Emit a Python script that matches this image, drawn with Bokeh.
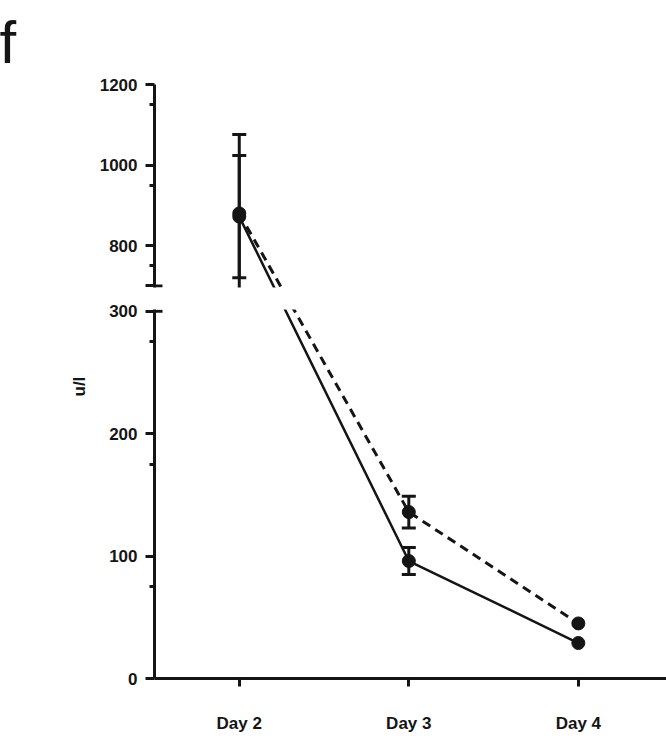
import math
from bokeh.plotting import figure
from bokeh.models import Range1d, FixedTicker, Title
from bokeh.layouts import column
from bokeh.embed import file_html
from bokeh.resources import INLINE

# ---------------- data ----------------
days = ["Day 2", "Day 3", "Day 4"]
x_pos = [1, 2, 3]
solid_mean = [872, 96, 29]
solid_err = [152, 11, 0]
dashed_mean = [880, 136, 45]
dashed_err = [196, 13, 0]

top_ticks = [700, 800, 1000, 1200]
top_minor = [750, 950, 1150]
bottom_ticks = [0, 100, 200, 300]
bottom_minor = [75, 175, 275]
break_low = 300
break_high = 700

# ---------------- layout ----------------
BLACK = "#151515"
FONT = "Liberation Sans"
LEFT = 154
FRAME_W = 512
X_RANGE = (0.5, 3.52)
TOP_RANGE = (696, 1200)
BOT_RANGE = (0, 301.5)
TOP_H = 203
BOT_H = 369
TOP_BB = 8
BOT_BT = 14
GAP = TOP_BB + BOT_BT
kt = TOP_H / (TOP_RANGE[1] - TOP_RANGE[0])
kb = BOT_H / (BOT_RANGE[1] - BOT_RANGE[0])
kx = FRAME_W / (X_RANGE[1] - X_RANGE[0])


def to_px(v):
    """continuous pixel height above the bottom frame's bottom edge"""
    if v >= (break_low + break_high) / 2:
        return BOT_H + GAP + (v - TOP_RANGE[0]) * kt
    return (v - BOT_RANGE[0]) * kb


def to_top(v):
    return TOP_RANGE[0] + (to_px(v) - BOT_H - GAP) / kt


def to_bot(v):
    return BOT_RANGE[0] + to_px(v) / kb


def make_fig(yr, fh, btop, bbot):
    p = figure(frame_width=FRAME_W, frame_height=fh,
               x_range=Range1d(*X_RANGE), y_range=Range1d(*yr),
               output_backend="svg", toolbar_location=None,
               min_border_left=LEFT, min_border_right=0,
               min_border_top=btop, min_border_bottom=bbot)
    p.outline_line_color = None
    p.grid.visible = False
    p.background_fill_color = "white"
    p.border_fill_color = "white"
    return p


def style_yaxis(ax, ticks, minor, hide):
    ax.ticker = FixedTicker(ticks=ticks, minor_ticks=minor)
    ax.axis_line_width = 3
    ax.axis_line_color = BLACK
    ax.major_tick_line_width = 3
    ax.major_tick_line_color = BLACK
    ax.major_tick_out = 9
    ax.major_tick_in = 0
    ax.minor_tick_line_width = 3
    ax.minor_tick_line_color = BLACK
    ax.minor_tick_out = 5
    ax.minor_tick_in = 0
    ax.major_label_text_font = FONT
    ax.major_label_text_font_style = "bold"
    ax.major_label_text_font_size = "17px"
    ax.major_label_text_color = BLACK
    ax.major_label_standoff = 8
    if hide is not None:
        ax.major_label_overrides = {hide: ""}


def draw_series(p, conv):
    for mean, err, dash, lw in [(solid_mean, solid_err, "solid", 2.5),
                                (dashed_mean, dashed_err, "9 6", 3)]:
        p.line(x_pos, [conv(v) for v in mean], line_color=BLACK,
               line_width=lw, line_dash=dash)
        idx = [i for i, e in enumerate(err) if e > 0]
        xs = [x_pos[i] for i in idx]
        lo = [conv(mean[i] - err[i]) for i in idx]
        hi = [conv(mean[i] + err[i]) for i in idx]
        p.segment(x0=xs, y0=lo, x1=xs, y1=hi, line_color=BLACK, line_width=3)
        p.scatter(x=xs + xs, y=lo + hi, marker="dash", size=14,
                  line_color=BLACK, line_width=3)
    for mean in (solid_mean, dashed_mean):
        p.scatter(x=x_pos, y=[conv(v) for v in mean], marker="circle",
                  size=13, fill_color=BLACK, line_color=BLACK)


# ---------------- top panel ----------------
top = make_fig(TOP_RANGE, TOP_H, 84, TOP_BB)
top.xaxis.visible = False
style_yaxis(top.yaxis[0], top_ticks, top_minor, break_high)
draw_series(top, to_top)
top.segment(x0=[X_RANGE[0]], y0=[break_high], x1=[X_RANGE[0] + 8 / kx],
            y1=[break_high], line_color=BLACK, line_width=3)
top.add_layout(Title(text="f", text_font=FONT, text_font_size="60px",
                     text_font_style="normal", text_color=BLACK,
                     align="left", vertical_align="top",
                     offset=-LEFT - 1, standoff=14), "above")

# ---------------- bottom panel ----------------
bot = make_fig(BOT_RANGE, BOT_H, BOT_BT, 53)
style_yaxis(bot.yaxis[0], bottom_ticks, bottom_minor, None)
draw_series(bot, to_bot)
bot.segment(x0=[X_RANGE[0]], y0=[break_low], x1=[X_RANGE[0] + 8 / kx],
            y1=[break_low], line_color=BLACK, line_width=3)

xa = bot.xaxis[0]
xa.ticker = FixedTicker(ticks=x_pos)
xa.major_label_overrides = {x: d for x, d in zip(x_pos, days)}
xa.axis_line_width = 3
xa.axis_line_color = BLACK
xa.major_tick_line_width = 3
xa.major_tick_line_color = BLACK
xa.major_tick_out = 8
xa.major_tick_in = 0
xa.minor_tick_out = 0
xa.minor_tick_in = 0
xa.major_label_text_font = FONT
xa.major_label_text_font_style = "bold"
xa.major_label_text_font_size = "17px"
xa.major_label_text_color = BLACK
xa.major_label_standoff = 27

bot.add_layout(Title(text="u/l", text_font=FONT, text_font_style="bold",
                     text_font_size="17px", text_color=BLACK,
                     align="left", offset=282, standoff=36), "left")

layout = column(top, bot, spacing=0)
open("out.html", "w").write(file_html(layout, INLINE))
